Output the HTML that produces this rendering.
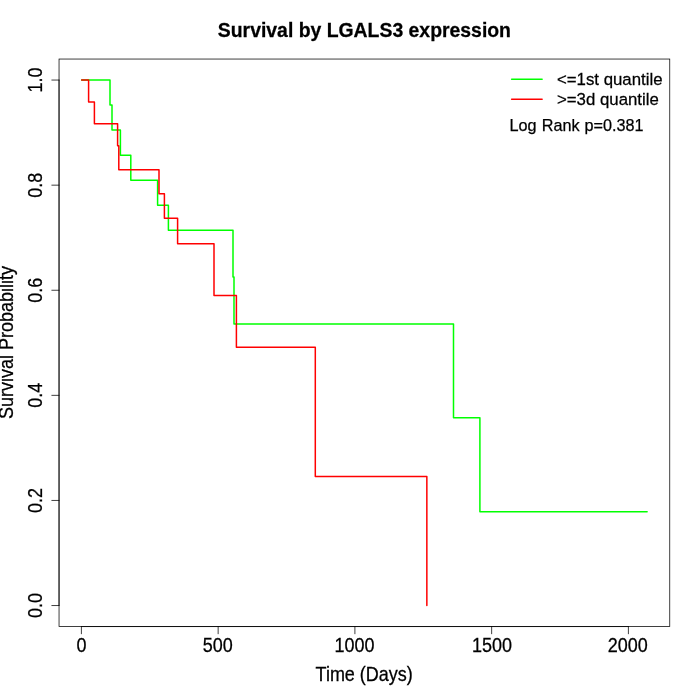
<!DOCTYPE html>
<html><head><meta charset="utf-8"><title>Survival by LGALS3 expression</title>
<style>
html,body{margin:0;padding:0;background:#fff;}
svg{display:block;}
text{font-family:"Liberation Sans",sans-serif;fill:#000;stroke:#000;stroke-width:0.25px;}
</style></head><body>
<svg width="700" height="700" viewBox="0 0 700 700">
<rect width="700" height="700" fill="#fff"/>
<!-- curves -->
<g fill="none" stroke-width="1.5" stroke-linejoin="round" stroke-linecap="round">
<path stroke="#00ff00" d="M81.66,80.06 H110 V105.08 H112 V130.1 H120.4 V155.13 H130.8 V180.15 H157.6 V205.17 H168.4 V230.2 H233 V277.1 H234 V324.03 H453.5 V417.87 H479.9 V511.7 H647.14"/>
<path stroke="#ff0000" d="M81.66,80.06 H88.6 V101.96 H94.4 V123.85 H117.6 V145.75 H118.8 V169.8 H159 V193.8 H164.4 V218.2 H177.6 V243.8 H214 V295.5 H236.4 V347.2 H315.3 V476.4 H426.85 V605.54"/>
</g>
<!-- axes -->
<g fill="none" stroke="#000" stroke-width="0.75" stroke-linecap="round">
<path d="M81.4,626.56 H628.4"/>
<path d="M81.4,626.56 v7.2 M218.15,626.56 v7.2 M354.9,626.56 v7.2 M491.65,626.56 v7.2 M628.4,626.56 v7.2"/>
<path d="M59.04,605.54 V80.06"/>
<path d="M59.04,605.54 h-7.2 M59.04,500.44 h-7.2 M59.04,395.35 h-7.2 M59.04,290.25 h-7.2 M59.04,185.16 h-7.2 M59.04,80.06 h-7.2"/>
<rect x="59.04" y="59.04" width="610.72" height="567.52"/>
</g>
<!-- x tick labels -->
<g font-size="18" text-anchor="middle">
<text transform="translate(81.5,651.9) scale(1,1.08)">0</text>
<text transform="translate(217.7,651.9) scale(1,1.08)">500</text>
<text transform="translate(354.5,651.9) scale(1,1.08)">1000</text>
<text transform="translate(491.9,651.9) scale(1,1.08)">1500</text>
<text transform="translate(627.8,651.9) scale(1,1.08)">2000</text>
</g>
<!-- y tick labels -->
<g font-size="18" text-anchor="middle">
<text transform="translate(42.4,605.54) rotate(-90) scale(1,1.08)">0.0</text>
<text transform="translate(42.4,500.44) rotate(-90) scale(1,1.08)">0.2</text>
<text transform="translate(42.4,395.35) rotate(-90) scale(1,1.08)">0.4</text>
<text transform="translate(42.4,290.25) rotate(-90) scale(1,1.08)">0.6</text>
<text transform="translate(42.4,185.16) rotate(-90) scale(1,1.08)">0.8</text>
<text transform="translate(42.4,80.06) rotate(-90) scale(1,1.08)">1.0</text>
</g>
<!-- labels -->
<text transform="translate(364.4,37.1) scale(1,1.04)" font-size="19.4" font-weight="bold" text-anchor="middle" stroke="none">Survival by LGALS3 expression</text>
<text transform="translate(364.2,681) scale(1,1.08)" font-size="18" text-anchor="middle">Time (Days)</text>
<text transform="translate(12.9,342.4) rotate(-90) scale(1,1.08)" font-size="18" text-anchor="middle">Survival Probability</text>
<!-- legend -->
<g fill="none" stroke-width="1.5" stroke-linecap="round">
<path stroke="#00ff00" d="M511.6,79.2 H542.1"/>
<path stroke="#ff0000" d="M511.6,99.36 H542.1"/>
</g>
<text transform="translate(557,84.9) scale(1,1.03)" font-size="16.8">&lt;=1st quantile</text>
<text transform="translate(557,105.05) scale(1,1.03)" font-size="16.8">&gt;=3d quantile</text>
<text x="509.6" y="130.8" font-size="16.2" word-spacing="0.6">Log Rank p=0.381</text>
</svg>
</body></html>
